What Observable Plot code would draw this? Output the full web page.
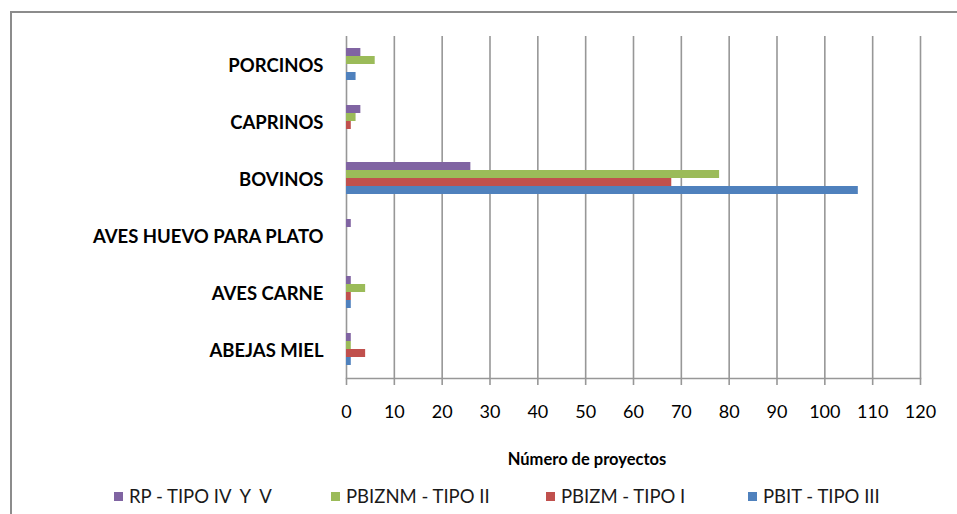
<!DOCTYPE html>
<html>
<head>
<meta charset="utf-8">
<script src="https://cdn.jsdelivr.net/npm/d3@7"></script>
<script src="https://cdn.jsdelivr.net/npm/@observablehq/plot@0.6"></script>
<style>
  body { margin: 0; background: #fff; width: 957px; height: 514px; overflow: hidden; position: relative; font-family: Lato, "Open Sans", sans-serif; }
  #frame { position: absolute; left: 10px; top: 11px; width: 960px; height: 520px; border-top: 2px solid #8c8c8c; border-left: 2px solid #8c8c8c; box-sizing: border-box; }
  #chart { position: absolute; left: 0; top: 0; }
  #xtitle { position: absolute; top: 449px; left: 587px; transform: translateX(-50%); font-weight: bold; font-size: 16.5px; color: #000; white-space: nowrap; }
  .leg { position: absolute; top: 485px; font-size: 18.5px; color: #1a1a1a; white-space: nowrap; display: flex; align-items: center; }
  .leg span.sw { display: inline-block; width: 9px; height: 9px; margin-right: 6px; }
</style>
</head>
<body>
<div id="frame"></div>
<div id="chart"></div>
<div id="xtitle"></div>
<div id="legend"></div>
<script>
// ---- data ----
const categories = ["PORCINOS", "CAPRINOS", "BOVINOS", "AVES HUEVO PARA PLATO", "AVES CARNE", "ABEJAS MIEL"];
const seriesNames = ["RP - TIPO IV  Y  V", "PBIZNM - TIPO II", "PBIZM - TIPO I", "PBIT - TIPO III"];
const seriesColors = ["#8064A2", "#9BBB59", "#C0504D", "#4F81BD"];
const rpValues     = [3, 3, 26, 1, 1, 1];
const pbiznmValues = [6, 2, 78, 0, 4, 1];
const pbizmValues  = [0, 1, 68, 0, 1, 4];
const pbitValues   = [2, 0, 107, 0, 1, 1];
const xTicks = [0, 10, 20, 30, 40, 50, 60, 70, 80, 90, 100, 110, 120];
const xTitle = "Número de proyectos";
const legendX = [114, 331, 546, 748];

const seriesValues = [rpValues, pbiznmValues, pbizmValues, pbitValues];
const rows = [];
seriesNames.forEach((s, i) => categories.forEach((c, j) => rows.push({series: s, idx: i, category: c, value: seriesValues[i][j]})));

const barMarks = seriesNames.map((s, i) =>
  Plot.barX(rows.filter(r => r.idx === i), {
    x: "value", y: "category", fill: seriesColors[i],
    insetTop: 8 * i, insetBottom: 8 * (3 - i)
  })
);

const chart = Plot.plot({
  width: 957,
  height: 514,
  marginLeft: 346,
  marginRight: 37,
  marginTop: 36,
  marginBottom: 136,
  style: {fontFamily: "Lato, 'Open Sans', sans-serif", fontSize: "16px", background: "transparent", overflow: "visible"},
  x: {domain: [0, 120], ticks: xTicks},
  y: {domain: categories, paddingInner: 0.437, paddingOuter: 0.2185},
  marks: [
    Plot.gridX(xTicks, {stroke: "#979797", strokeOpacity: 1, strokeWidth: 1.6}),
    ...barMarks,
    Plot.frame({anchor: "bottom", stroke: "#979797", strokeWidth: 1.6}),
    Plot.axisX(xTicks, {tickSize: 7, tickPadding: 20, stroke: "#979797", strokeWidth: 1.6, fontSize: 18, fill: "#000", label: null}),
    Plot.axisY({tickSize: 0, tickPadding: 23, dy: 2, fontSize: 18.5, fontWeight: "bold", fill: "#000", label: null})
  ]
});
document.getElementById("chart").appendChild(chart);
document.getElementById("xtitle").textContent = xTitle;

const legend = document.getElementById("legend");
seriesNames.forEach((s, i) => {
  const d = document.createElement("div");
  d.className = "leg";
  d.style.left = legendX[i] + "px";
  const sw = document.createElement("span");
  sw.className = "sw";
  sw.style.background = seriesColors[i];
  d.appendChild(sw);
  const t = document.createElement("span");
  t.textContent = s;
  t.style.whiteSpace = "pre";
  d.appendChild(t);
  legend.appendChild(d);
});
</script>
</body>
</html>
